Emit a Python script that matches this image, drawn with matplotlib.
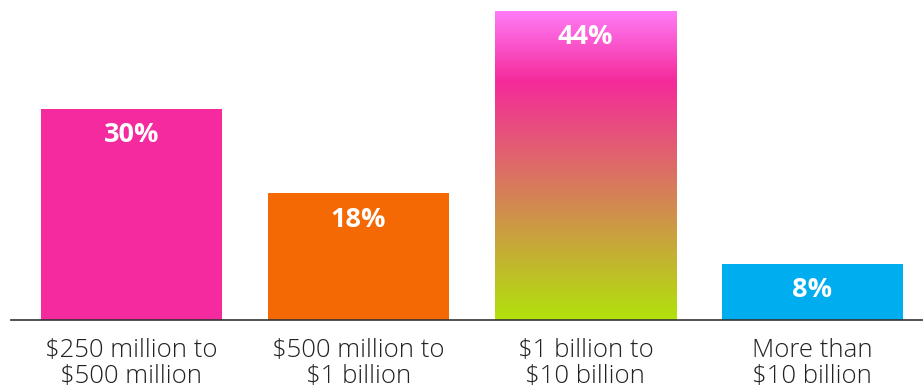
import numpy as np
import matplotlib.pyplot as plt
from matplotlib.colors import LinearSegmentedColormap

categories = ["$250 million to\n$500 million", "$500 million to\n$1 billion",
              "$1 billion to\n$10 billion", "More than\n$10 billion"]
values = [30, 18, 44, 8]
labels = ["30%", "18%", "44%", "8%"]
colors = ["#F52A9F", "#F56905", None, "#00AEEF"]

fig = plt.figure(figsize=(9.23, 3.9), dpi=100)
ax = fig.add_axes([11 / 923, 70 / 390, 912 / 923, 320 / 390])

x = np.arange(len(values))
width = 0.8
bars = ax.bar(x, values, width=width, color=[c if c else "none" for c in colors],
              edgecolor="none", zorder=2)

# gradient fill for the third bar
grad = LinearSegmentedColormap.from_list(
    "g", [(0, "#B2E20C"), (0.77, "#F52A9A"), (1.0, "#FF7CF8")])
b = bars[2]
img = ax.imshow(np.linspace(0, 1, 256).reshape(-1, 1), cmap=grad, origin="lower",
                aspect="auto", extent=[b.get_x(), b.get_x() + width, 0, b.get_height()],
                zorder=1)
img.set_clip_path(b)

ax.set_xlim(-0.53, 3.487)
ax.set_ylim(0, 45.5)

for xi, v, lab in zip(x, values, labels):
    ax.annotate(lab, (xi, v), xytext=(0, -19), textcoords="offset points",
                ha="center", va="center", color="white", fontsize=19.5,
                fontweight="bold", family=["Open Sans", "DejaVu Sans"], zorder=3)

for spine in ["top", "right", "left"]:
    ax.spines[spine].set_visible(False)
ax.spines["bottom"].set_color("#333333")
ax.spines["bottom"].set_linewidth(1.2)
ax.set_yticks([])
ax.set_xticks(x)
ax.set_xticklabels(categories, fontsize=18.5, color="#222222", fontweight="light",
                   family=["Open Sans", "DejaVu Sans"], linespacing=1.05)
ax.tick_params(axis="x", length=0, pad=13)
ax.get_xticklabels()[3].set_x(3.03)

fig.savefig("out.png", dpi=100)
